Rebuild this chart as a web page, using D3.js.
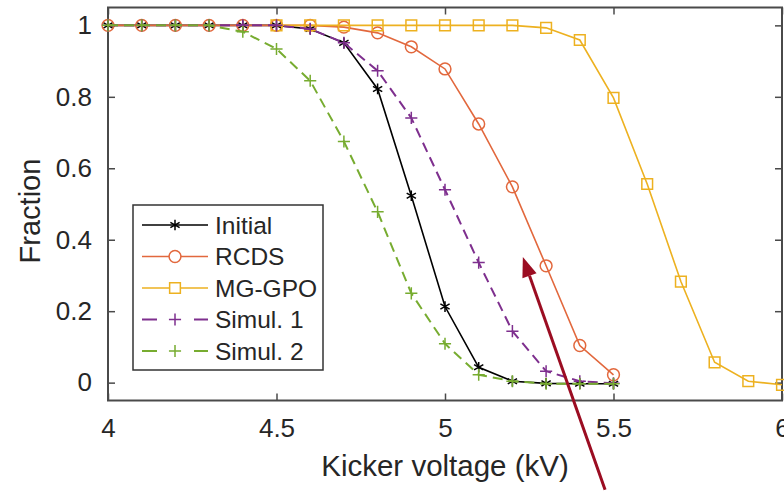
<!DOCTYPE html>
<html>
<head>
<meta charset="utf-8">
<script src="https://cdn.jsdelivr.net/npm/d3@7"></script>
<style>
  body { margin: 0; background: #fff; }
  text { font-family: "Liberation Sans", Arial, Helvetica, sans-serif; fill: #262626; }
</style>
</head>
<body>
<div id="container"></div>
<script>
/* DATA */
const voltsA = [4.0, 4.1, 4.2, 4.3, 4.4, 4.5, 4.6, 4.7, 4.8, 4.9, 5.0, 5.1, 5.2, 5.3, 5.4, 5.5];
const voltsB = [4.5, 4.6, 4.7, 4.8, 4.9, 5.0, 5.1, 5.2, 5.3, 5.4, 5.5, 5.6, 5.7, 5.8, 5.9, 6.0];

const initial = [1, 1, 1, 1, 1, 1, 0.99, 0.951, 0.822, 0.523, 0.213, 0.043, 0.004, -0.002, -0.003, -0.003];
const rcds    = [1, 1, 1, 1, 1, 1, 1, 0.995, 0.979, 0.94, 0.878, 0.724, 0.548, 0.327, 0.104, 0.022];
const mggpo   = [1, 1, 1, 1, 1, 1, 1, 1, 0.993, 0.959, 0.797, 0.556, 0.283, 0.057, 0.004, -0.006];
const simul1  = [1, 1, 1, 1, 1, 1, 0.99, 0.951, 0.873, 0.741, 0.54, 0.336, 0.144, 0.032, 0.004, -0.002];
const simul2  = [1, 1, 1, 1, 0.982, 0.934, 0.845, 0.675, 0.478, 0.25, 0.109, 0.022, 0.004, -0.003, -0.003, -0.003];

const seriesNames = ["Initial", "RCDS", "MG-GPO", "Simul. 1", "Simul. 2"];
const xTicks = [4, 4.5, 5, 5.5, 6];
const yTicks = [0, 0.2, 0.4, 0.6, 0.8, 1];

// arrow annotation (data units)
const arrowTail = [5.475, -0.30];
const arrowTip = [5.231, 0.352];

/* CONSTANTS */
const width = 784, height = 491;
const plot = { left: 108, right: 782, top: 7.5, bottom: 400.5 };

const series = [
  { name: seriesNames[0], x: voltsA, y: initial, color: "#000000", marker: "asterisk", dash: null },
  { name: seriesNames[1], x: voltsA, y: rcds,    color: "#e2683d", marker: "circle",   dash: null },
  { name: seriesNames[2], x: voltsB, y: mggpo,   color: "#edb120", marker: "square",   dash: null },
  { name: seriesNames[3], x: voltsA, y: simul1,  color: "#7e2f8e", marker: "plus",     dash: "10,6" },
  { name: seriesNames[4], x: voltsA, y: simul2,  color: "#77ac30", marker: "plus",     dash: "10,6" }
];

/* SCALES */
const xScale = d3.scaleLinear().domain([4, 6]).range([plot.left, plot.right]);
const yScale = d3.scaleLinear().domain([-0.05, 1.05]).range([plot.bottom, plot.top]);

const symbolType = {
  asterisk: d3.symbol(d3.symbolAsterisk, 80),
  circle: d3.symbol(d3.symbolCircle, 110),
  square: d3.symbol(d3.symbolSquare, 115),
  plus: d3.symbol(d3.symbolPlus, 50)
};

/* HTML ELEMENTS */
const svg = d3.select("#container")
  .append("svg")
  .attr("width", width)
  .attr("height", height);

const fmt = d3.format("~g");
const axisColor = "#4a4a4a";

const styleAxis = g => {
  g.select(".domain").remove();
  g.selectAll(".tick line").attr("stroke", axisColor).attr("stroke-width", 1.5);
  g.selectAll(".tick text")
    .style("font-size", "26px")
    .attr("fill", "#262626");
};

svg.append("g")
  .attr("transform", `translate(0,${plot.bottom})`)
  .call(d3.axisBottom(xScale).tickValues(xTicks).tickFormat(fmt).tickSizeInner(-7).tickSizeOuter(0).tickPadding(18))
  .call(styleAxis);

svg.append("g")
  .attr("transform", `translate(0,${plot.top})`)
  .call(d3.axisTop(xScale).tickValues(xTicks).tickFormat("").tickSizeInner(-7).tickSizeOuter(0))
  .call(styleAxis);

svg.append("g")
  .attr("transform", `translate(${plot.left},0)`)
  .call(d3.axisLeft(yScale).tickValues(yTicks).tickFormat(fmt).tickSizeInner(-7).tickSizeOuter(0).tickPadding(16))
  .call(styleAxis);

svg.append("g")
  .attr("transform", `translate(${plot.right},0)`)
  .call(d3.axisRight(yScale).tickValues(yTicks).tickFormat("").tickSizeInner(-7).tickSizeOuter(0))
  .call(styleAxis);

// box
svg.append("rect")
  .attr("x", plot.left)
  .attr("y", plot.top)
  .attr("width", plot.right - plot.left)
  .attr("height", plot.bottom - plot.top)
  .attr("fill", "none")
  .attr("stroke", axisColor)
  .attr("stroke-width", 2);

// axis titles
svg.append("text")
  .attr("x", (plot.left + plot.right) / 2)
  .attr("y", 476)
  .attr("text-anchor", "middle")
  .style("font-size", "29.5px")
  .text("Kicker voltage (kV)");

svg.append("text")
  .attr("transform", "translate(40,211) rotate(-90)")
  .attr("text-anchor", "middle")
  .style("font-size", "29px")
  .text("Fraction");

/* LINES */
const line = d3.line()
  .x(d => xScale(d[0]))
  .y(d => yScale(d[1]));

series.forEach(s => {
  const pts = s.x.map((v, i) => [v, s.y[i]]);
  const g = svg.append("g");
  g.append("path")
    .datum(pts)
    .attr("d", line)
    .attr("fill", "none")
    .attr("stroke", s.color)
    .attr("stroke-width", s.dash ? 2 : 1.6)
    .attr("stroke-dasharray", s.dash);
  g.selectAll("path.mk")
    .data(pts)
    .join("path")
    .attr("class", "mk")
    .attr("transform", d => `translate(${xScale(d[0])},${yScale(d[1])})`)
    .attr("d", symbolType[s.marker])
    .attr("fill", "none")
    .attr("stroke", s.color)
    .attr("stroke-width", 1.5);
});

/* LEGEND */
const legend = svg.append("g");
legend.append("rect")
  .attr("x", 133).attr("y", 205)
  .attr("width", 190).attr("height", 165)
  .attr("fill", "#fff")
  .attr("stroke", "#333")
  .attr("stroke-width", 1.5);

const rows = legend.selectAll("g.row")
  .data(series)
  .join("g")
  .attr("class", "row")
  .attr("transform", (d, i) => `translate(0,${225 + i * 31.5})`);

rows.append("line")
  .attr("x1", 142).attr("x2", 208)
  .attr("stroke", d => d.color)
  .attr("stroke-width", d => d.dash ? 2 : 1.6)
  .attr("stroke-dasharray", d => d.dash ? "15,37,16" : null);

rows.append("path")
  .attr("transform", "translate(175,0)")
  .attr("d", d => symbolType[d.marker]())
  .attr("fill", d => d.marker === "circle" || d.marker === "square" ? "#fff" : "none")
  .attr("stroke", d => d.color)
  .attr("stroke-width", 1.5);

rows.append("text")
  .attr("x", 215)
  .attr("y", 8.5)
  .style("font-size", "24.5px")
  .text(d => d.name);

/* ARROW */
const tail = [xScale(arrowTail[0]), yScale(arrowTail[1])];
const tip = [xScale(arrowTip[0]), yScale(arrowTip[1])];
const ang = Math.atan2(tip[1] - tail[1], tip[0] - tail[0]);
const headLen = 20, headHalf = 7.5;
const base = [tip[0] - headLen * Math.cos(ang), tip[1] - headLen * Math.sin(ang)];

svg.append("line")
  .attr("x1", tail[0]).attr("y1", tail[1])
  .attr("x2", base[0]).attr("y2", base[1])
  .attr("stroke", "#9b0d22")
  .attr("stroke-width", 3);

svg.append("path")
  .attr("d", d3.line()([
    tip,
    [base[0] + headHalf * Math.sin(ang), base[1] - headHalf * Math.cos(ang)],
    [base[0] - headHalf * Math.sin(ang), base[1] + headHalf * Math.cos(ang)]
  ]) + "Z")
  .attr("fill", "#9b0d22");
</script>
</body>
</html>
